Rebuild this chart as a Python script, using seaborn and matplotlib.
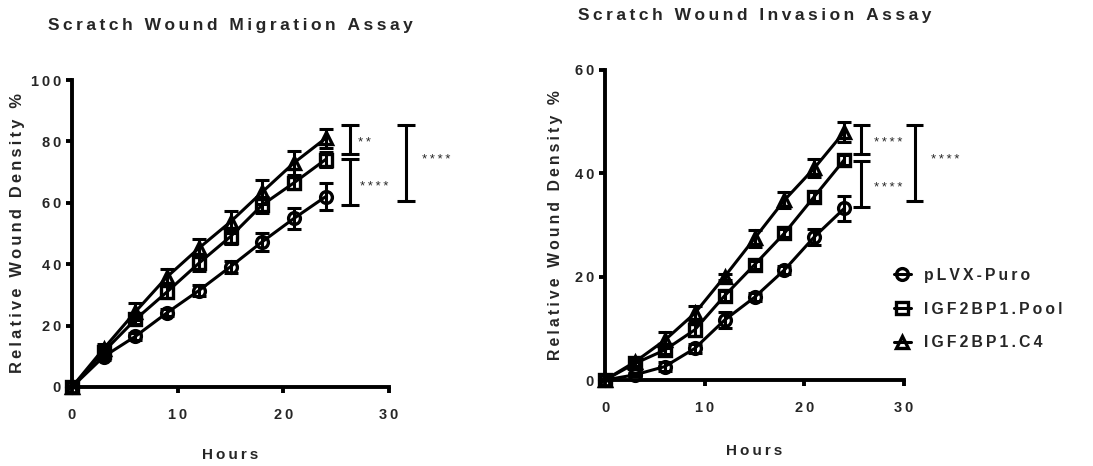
import matplotlib
matplotlib.use("Agg")
import matplotlib.pyplot as plt
from matplotlib.lines import Line2D
from matplotlib.ticker import FuncFormatter
import pandas as pd
import seaborn as sns

# ---- data -------------------------------------------------------------
hours = [0, 3, 6, 9, 12, 15, 18, 21, 24]
groups = ["pLVX-Puro", "IGF2BP1.Pool", "IGF2BP1.C4"]

mig_puro = [0, 9.9, 16.5, 24.2, 31.4, 39.2, 47.3, 54.9, 62.0]
mig_pool = [0, 11.5, 22.0, 31.0, 40.3, 49.0, 59.3, 66.5, 74.1]
mig_c4 = [0, 12.5, 24.5, 35.9, 45.2, 53.8, 63.5, 73.0, 81.0]
mig_puro_sem = [0, 1.0, 1.2, 1.2, 1.8, 2.0, 3.0, 3.5, 4.5]
mig_pool_sem = [0, 1.0, 1.5, 2.0, 2.5, 2.5, 2.5, 2.0, 2.5]
mig_c4_sem = [0, 1.5, 2.8, 2.5, 3.0, 3.5, 4.0, 4.0, 3.0]

inv_puro = [0, 1.0, 2.6, 6.1, 11.6, 16.0, 21.3, 27.7, 33.2]
inv_pool = [0, 3.2, 5.8, 9.7, 16.3, 22.3, 28.4, 35.5, 42.6]
inv_c4 = [0, 3.5, 7.7, 12.9, 20.0, 27.4, 34.8, 41.0, 48.0]
inv_puro_sem = [0, 0.3, 0.8, 0.8, 1.5, 0.8, 0.8, 1.5, 2.4]
inv_pool_sem = [0, 0.5, 0.8, 1.2, 1.0, 0.8, 0.8, 0.8, 1.0]
inv_c4_sem = [0, 0.8, 1.5, 1.5, 0.6, 1.7, 1.5, 1.7, 2.0]

# significance brackets: (x, y_top, y_bottom, label, label_x, label_y)
mig_brackets = [
    (26.3, 85.3, 76.0, "**", 27.1, 79.5),
    (26.3, 74.2, 59.3, "****", 27.3, 65.0),
    (31.6, 85.3, 60.6, "****", 33.1, 73.9),
]
inv_brackets = [
    (25.7, 49.3, 43.7, "****", 27.0, 45.8),
    (25.7, 42.4, 33.5, "****", 27.0, 37.1),
    (31.1, 49.3, 34.7, "****", 32.7, 42.6),
]

titles = ["Scratch Wound Migration Assay", "Scratch Wound Invasion Assay"]
xlabel = "Hours"
ylabel = "Relative Wound Density %"

# ---- styling ----------------------------------------------------------
sns.set_theme(style="ticks")
plt.rcParams["font.family"] = ["Liberation Sans", "DejaVu Sans"]
plt.rcParams["font.weight"] = "bold"

SP = "\u2009"


def spaced(s):
    return SP.join(s)


markers = {"pLVX-Puro": "o", "IGF2BP1.Pool": "s", "IGF2BP1.C4": "^"}
LW = 2.2
MS = 8.5
MEW = 2.4


def tidy(values, sems):
    rows = []
    for g, vals, errs in zip(groups, values, sems):
        for h, v, e in zip(hours, vals, errs):
            rows.append({"Hours": h, "Density": v, "SEM": e, "Group": g})
    return pd.DataFrame(rows)


mig_df = tidy([mig_puro, mig_pool, mig_c4], [mig_puro_sem, mig_pool_sem, mig_c4_sem])
inv_df = tidy([inv_puro, inv_pool, inv_c4], [inv_puro_sem, inv_pool_sem, inv_c4_sem])

fig = plt.figure(figsize=(10.93, 4.66), dpi=100)
ax1 = fig.add_axes([72 / 1093, 79 / 466, 317 / 1093, 307 / 466])
ax2 = fig.add_axes([605 / 1093, 86 / 466, 299 / 1093, 310 / 466])


def draw_panel(ax, df, ymax, ystep, title, brackets, ylabelpad, xlabelpad,
               ylabelsize):
    for g in groups:
        sub = df[df["Group"] == g]
        ax.errorbar(sub["Hours"], sub["Density"], yerr=sub["SEM"], fmt="none",
                    ecolor="black", elinewidth=LW, capsize=4.7, capthick=LW,
                    zorder=2, clip_on=False)
    sns.lineplot(data=df, x="Hours", y="Density", style="Group", markers=markers,
                 dashes=False, color="black", linewidth=LW, markersize=MS,
                 markerfacecolor="none", markeredgecolor="black",
                 markeredgewidth=MEW, legend=False, ax=ax, clip_on=False,
                 zorder=3, style_order=groups)
    ax.set_xlim(0, 30)
    ax.set_ylim(0, ymax)
    ax.set_xticks([0, 10, 20, 30])
    ax.set_yticks(list(range(0, ymax + 1, ystep)))
    fmt = FuncFormatter(lambda v, p: spaced(f"{v:.0f}"))
    ax.xaxis.set_major_formatter(fmt)
    ax.yaxis.set_major_formatter(fmt)
    sns.despine(ax=ax)
    for sp in ("left", "bottom"):
        ax.spines[sp].set_linewidth(LW + 0.6)
        ax.spines[sp].set_color("black")
    ax.tick_params(axis="both", length=4, width=LW + 0.6, color="black",
                   labelsize=10.5, pad=4)
    ax.tick_params(axis="x", pad=11)
    for lab in ax.get_xticklabels() + ax.get_yticklabels():
        lab.set_fontweight("bold")
    ax.set_xlabel(spaced(xlabel), fontsize=11, fontweight="bold",
                  labelpad=xlabelpad)
    ax.set_ylabel(spaced(ylabel), fontsize=ylabelsize, fontweight="bold",
                  labelpad=ylabelpad)
    ax.set_title(spaced(title), fontsize=12.5, fontweight="bold", pad=36)
    ax.set_facecolor("white")

    for bx, ytop, ybot, lab, lx, ly in brackets:
        ax.plot([bx, bx], [ybot, ytop], color="black", lw=LW, clip_on=False,
                solid_capstyle="butt")
        for yy in (ytop, ybot):
            ax.plot([bx - 0.85, bx + 0.85], [yy, yy], color="black", lw=LW,
                    clip_on=False, solid_capstyle="butt")
        ax.text(lx, ly, spaced(lab), fontsize=9.5, fontweight="normal",
                ha="left", va="center", clip_on=False)


draw_panel(ax1, mig_df, 100, 20, titles[0], mig_brackets, 4, 19, 11.8)
draw_panel(ax2, inv_df, 60, 20, titles[1], inv_brackets, 8, 21, 11.3)

handles = [
    Line2D([], [], color="black", lw=LW, marker=markers[g], markersize=MS,
           markerfacecolor="none", markeredgecolor="black", markeredgewidth=MEW)
    for g in groups
]
fig.legend(handles, [spaced(g) for g in groups], loc="center left",
           bbox_to_anchor=(886 / 1093, 157 / 466), frameon=False,
           handlelength=1.1, handletextpad=0.8, labelspacing=1.2,
           borderpad=0, prop={"weight": "bold", "size": 11.3})

fig.patch.set_facecolor("white")
fig.savefig("out.png", dpi=100, facecolor="white")
